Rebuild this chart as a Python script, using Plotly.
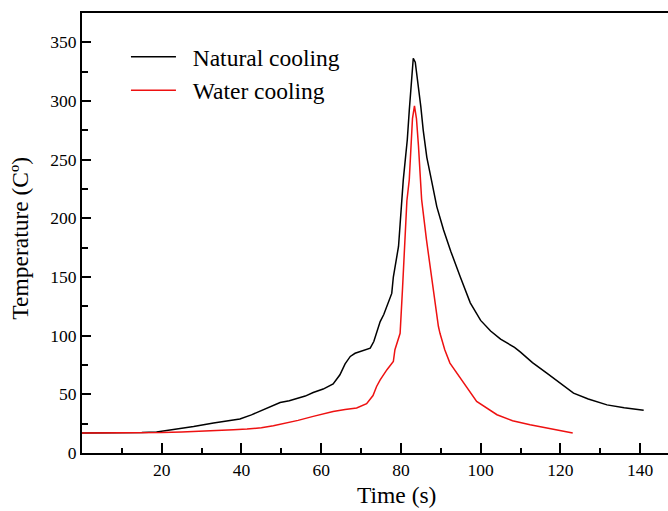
import plotly.graph_objects as go

# Natural cooling (black curve)
t_natural = [0, 5, 10, 15, 18.7, 21.5, 24.6, 28, 33, 36.5, 39.6, 42.5, 45.4, 47.5, 49.7, 52,
             54.2, 56, 58, 60.5, 63, 64.7, 66, 67.3, 68.5, 69.8, 71, 72.3, 73.2, 73.9, 74.8,
             75.7, 76.5, 77.7, 78.1, 78.8, 79.4, 79.8, 80.2, 80.6, 81.1, 81.6, 82.1, 82.6,
             83.1, 83.6, 84.2, 85, 85.6, 86.5, 87.7, 89, 90.7, 92.5, 94.9, 97.4, 100, 102.5,
             105, 106.6, 108.5, 110, 113, 116.6, 120, 123.3, 127, 131.7, 136, 140.9]
temp_natural = [17, 17, 17.2, 17.5, 18, 19.3, 20.4, 22.5, 25.5, 27.5, 29, 32.5, 36.9, 40, 43, 44.5,
                46.8, 48.5, 51.6, 54.5, 58.8, 66.7, 76, 82.3, 85, 86.5, 87.5, 89.4, 95, 102, 112,
                118, 125, 136, 150, 163, 176, 195, 215, 233, 250, 267, 292, 318,
                336.4, 333, 318, 295, 275, 252, 232, 210, 190, 172, 150, 128, 113, 104,
                97, 94, 90, 86, 77, 68, 59, 51, 46, 41, 38.5, 36.5]

# Water cooling (red curve)
t_water = [0, 10, 20, 25, 30, 35, 38, 41.4, 45, 48, 50, 54.2, 58, 63, 66, 68.9, 71.4, 73,
           73.9, 74.8, 76.5, 78.1, 78.5, 79.2, 79.8, 80.4, 81.1, 81.5, 82.1, 82.5, 82.9,
           83.4, 83.9, 84.4, 84.8, 85.2, 86.4, 87.3, 88.2, 89.4, 89.8, 91, 92.3, 95.7, 99,
           104.1, 108, 112.4, 118, 123.1]
temp_water = [17, 17, 17.5, 18, 18.5, 19.2, 19.8, 20.4, 21.5, 23.2, 24.5, 27.8, 31.2, 35.4, 37,
              38.3, 42, 49, 56.7, 62.4, 71, 78, 88, 95, 102, 140, 190, 215, 233, 261, 285,
              295.8, 285, 262, 240, 216, 182, 159, 136, 108, 102, 88, 76.6, 59.6, 44,
              32.6, 27.5, 24.1, 20.5, 17]

font_family = "Liberation Serif"
pad = "\u00a0\u00a0"  # gap between legend line and text

fig = go.Figure()
fig.add_trace(go.Scatter(x=t_natural, y=temp_natural, mode="lines", name=pad + "Natural cooling",
                         line=dict(color="black", width=1.5)))
fig.add_trace(go.Scatter(x=t_water, y=temp_water, mode="lines", name=pad + "Water cooling",
                         line=dict(color="#ee1111", width=1.5)))

fig.update_layout(
    width=668, height=511,
    margin=dict(l=82, r=0, t=13, b=58, autoexpand=False),
    plot_bgcolor="white", paper_bgcolor="white",
    font=dict(family=font_family, size=17.5, color="black"),
    showlegend=True,
    legend=dict(x=0.075, y=0.95, xanchor="left", yanchor="top",
                bgcolor="rgba(0,0,0,0)", font=dict(size=23.5),
                itemwidth=45, tracegroupgap=0),
    xaxis=dict(range=[0, 147], tickvals=[20, 40, 60, 80, 100, 120, 140],
               ticks="inside", ticklen=10, tickwidth=2, tickcolor="black",
               minor=dict(dtick=10, tick0=0, ticks="inside", ticklen=5, tickwidth=2, tickcolor="black"),
               showline=True, linewidth=2, linecolor="black", mirror=True,
               showgrid=False, zeroline=False),
    yaxis=dict(range=[0, 375], tickvals=[0, 50, 100, 150, 200, 250, 300, 350],
               ticks="inside", ticklen=9, tickwidth=2, tickcolor="black",
               minor=dict(dtick=25, tick0=0, ticks="inside", ticklen=6, tickwidth=2, tickcolor="black"),
               showline=True, linewidth=2, linecolor="black",
               showgrid=False, zeroline=False),
)

fig.add_annotation(text="Temperature (Cº)", textangle=-90, showarrow=False,
                   xref="paper", yref="paper", x=-0.106, y=0.489,
                   xanchor="center", yanchor="middle", font=dict(size=23.5))
fig.add_annotation(text="Time (s)", showarrow=False,
                   xref="paper", yref="paper", x=0.5375, y=-0.095,
                   xanchor="center", yanchor="middle", font=dict(size=23.5))

fig.write_html("out.html", config={"displayModeBar": False},
               post_script="document.body.style.margin='0';")
